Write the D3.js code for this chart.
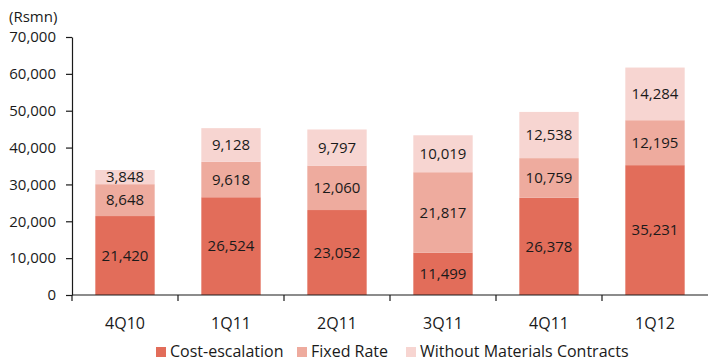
<!DOCTYPE html>
<html>
<head>
<meta charset="utf-8">
<script src="https://cdn.jsdelivr.net/npm/d3@7"></script>
<style>
  body { margin: 0; background: #fff; }
  text { font-family: "Open Sans", "Noto Sans", sans-serif; fill: #1a1a1a; }
  .axis path, .axis line { stroke: #1a1a1a; stroke-width: 1.2; }
  .axis text { font-size: 15px; }
</style>
</head>
<body>
<div id="chart"></div>
<script>
// Data
var quarters = ['4Q10', '1Q11', '2Q11', '3Q11', '4Q11', '1Q12'];
var costEscalation = [21420, 26524, 23052, 11499, 26378, 35231];
var fixedRate = [8648, 9618, 12060, 21817, 10759, 12195];
var withoutMaterials = [3848, 9128, 9797, 10019, 12538, 14284];
var seriesNames = ['Cost-escalation', 'Fixed Rate', 'Without Materials Contracts'];
var yTicks = [0, 10000, 20000, 30000, 40000, 50000, 60000, 70000];

var colors = ['#e26d5a', '#eeab9e', '#f7d5d1'];

var width = 711, height = 363;
var plotLeft = 72, plotRight = 708, plotTop = 37, plotBottom = 295;

var svg = d3.select('#chart')
  .append('svg')
  .attr('width', width)
  .attr('height', height);

// Build stacked table
var table = quarters.map(function(q, i) {
  var row = { quarter: q };
  row[seriesNames[0]] = costEscalation[i];
  row[seriesNames[1]] = fixedRate[i];
  row[seriesNames[2]] = withoutMaterials[i];
  return row;
});
var stacked = d3.stack().keys(seriesNames)(table);

var x = d3.scaleBand()
  .domain(quarters)
  .range([plotLeft, plotRight])
  .paddingInner(0.44)
  .paddingOuter(0.22);

var xTickScale = d3.scaleBand().domain(quarters).range([plotLeft, plotRight]);

var y = d3.scaleLinear()
  .domain([0, 70000])
  .range([plotBottom, plotTop]);

// Bars
var layers = svg.append('g')
  .selectAll('g')
  .data(stacked)
  .enter()
  .append('g')
  .attr('fill', function(d, i) { return colors[i]; });

layers.selectAll('rect')
  .data(function(d) { return d; })
  .enter()
  .append('rect')
  .attr('x', function(d) { return x(d.data.quarter); })
  .attr('y', function(d) { return y(d[1]); })
  .attr('width', x.bandwidth())
  .attr('height', function(d) { return y(d[0]) - y(d[1]); });

// Value labels
layers.selectAll('text')
  .data(function(d) { return d; })
  .enter()
  .append('text')
  .attr('x', function(d) { return x(d.data.quarter) + x.bandwidth() / 2; })
  .attr('y', function(d) { return (y(d[0]) + y(d[1])) / 2; })
  .attr('dy', '0.35em')
  .attr('text-anchor', 'middle')
  .style('font-size', '15px')
  .style('fill', '#1a1a1a')
  .text(function(d) { return d3.format(',')(d[1] - d[0]); });

// Y axis
var yAxis = d3.axisLeft(y)
  .tickValues(yTicks)
  .tickSizeInner(6)
  .tickSizeOuter(0)
  .tickPadding(10)
  .tickFormat(d3.format(','));

svg.append('g')
  .attr('class', 'axis')
  .attr('transform', 'translate(' + plotLeft + ',0)')
  .call(yAxis);

// X axis: line with ticks at category boundaries
var xAxisG = svg.append('g')
  .attr('class', 'axis')
  .attr('transform', 'translate(0,' + plotBottom + ')');

xAxisG.append('line')
  .attr('x1', plotLeft).attr('x2', plotRight)
  .attr('y1', 0).attr('y2', 0);

xAxisG.selectAll('.tickmark')
  .data(quarters)
  .enter()
  .append('line')
  .attr('class', 'tickmark')
  .attr('x1', function(d) { return xTickScale(d); })
  .attr('x2', function(d) { return xTickScale(d); })
  .attr('y1', 0).attr('y2', 6);

xAxisG.selectAll('.label')
  .data(quarters)
  .enter()
  .append('text')
  .attr('class', 'label')
  .attr('x', function(d) { return x(d) + x.bandwidth() / 2; })
  .attr('y', 34)
  .attr('text-anchor', 'middle')
  .style('font-size', '16px')
  .text(function(d) { return d; });

// Unit label
svg.append('text')
  .attr('x', 9)
  .attr('y', 22)
  .style('font-size', '15px')
  .text('(Rsmn)');

// Legend
var legendX = [156, 297, 406];
var legend = svg.append('g')
  .selectAll('g')
  .data(seriesNames)
  .enter()
  .append('g')
  .attr('transform', function(d, i) { return 'translate(' + legendX[i] + ',347)'; });

legend.append('rect')
  .attr('width', 10)
  .attr('height', 10)
  .attr('fill', function(d, i) { return colors[i]; });

legend.append('text')
  .attr('x', 14)
  .attr('y', 5)
  .attr('dy', '0.3em')
  .style('font-size', '16px')
  .text(function(d) { return d; });
</script>
</body>
</html>
